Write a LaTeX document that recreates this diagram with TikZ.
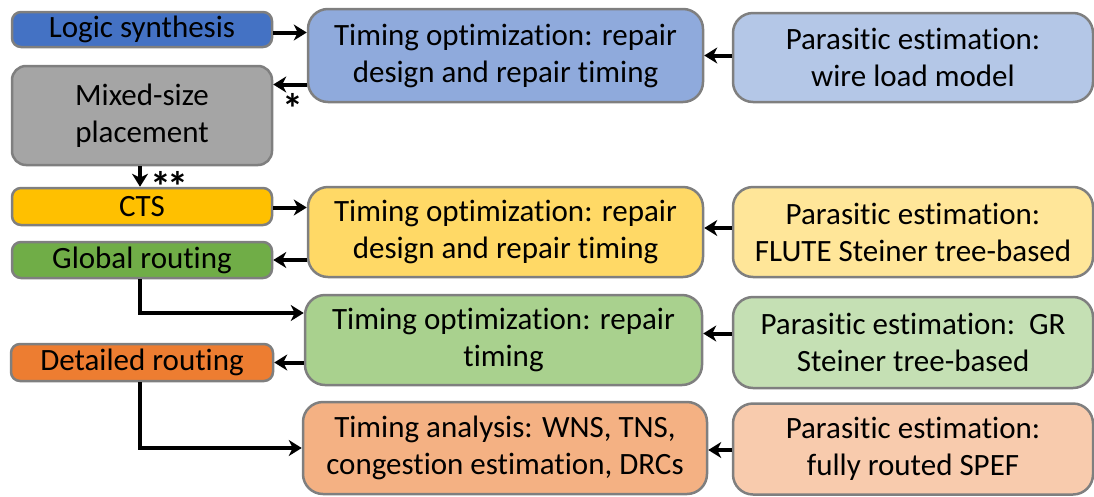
\documentclass[tikz,border=0pt]{standalone}
\usepackage{fontspec}
\setmainfont[RawFeature={-liga;-dlig;-clig}]{Carlito}
\usetikzlibrary{arrows.meta,calc}
\definecolor{cLS}{HTML}{4472C4}
\definecolor{cMP}{HTML}{A5A5A5}
\definecolor{cCTS}{HTML}{FFC000}
\definecolor{cGR}{HTML}{70AD47}
\definecolor{cDR}{HTML}{ED7D31}
\definecolor{cT1}{HTML}{8FAADC}
\definecolor{cP1}{HTML}{B4C7E7}
\definecolor{cT2}{HTML}{FFD966}
\definecolor{cP2}{HTML}{FFE699}
\definecolor{cT3}{HTML}{A9D18E}
\definecolor{cP3}{HTML}{C5E0B4}
\definecolor{cT4}{HTML}{F4B183}
\definecolor{cP4}{HTML}{F8CBAD}
\definecolor{bord}{HTML}{7F7F7F}
\tikzset{
  box/.style={draw=bord, line width=2.5pt, rounded corners=#1, align=center,
    inner sep=0pt, font=\fontsize{31}{37}\selectfont},
  box/.default=20pt,
  arr/.style={line width=4pt, -{Stealth[length=13pt,width=16pt,inset=4pt]}},
  star/.style={font=\fontsize{42}{42}\selectfont\bfseries, inner sep=0pt, anchor=base}
}
\begin{document}
\begin{tikzpicture}[x=1pt,y=-1pt]
\useasboundingbox (0,0) rectangle (1094,496);
% left column
\node[box=9pt, fill=cLS, minimum width=260pt, minimum height=35pt] (ls) at (142,29.5) {Logic synthesis};
\node[box=14pt, fill=cMP, minimum width=260pt, minimum height=99pt] (mp) at (142,115.5) {Mixed-size\\placement};
\node[box=9pt, fill=cCTS, minimum width=260pt, minimum height=37pt] (cts) at (142,206.5) {CTS};
\node[box=9pt, fill=cGR, minimum width=260pt, minimum height=36pt] (gr) at (142,260) {Global routing};
\node[box=9pt, fill=cDR, minimum width=262pt, minimum height=37pt] (dr) at (142,362.5) {Detailed routing};
% middle column
\node[box, fill=cT1, minimum width=395pt, minimum height=93pt] (t1) at (505.5,55.5) {Timing optimization: repair\\design and repair timing};
\node[box, fill=cT2, minimum width=395pt, minimum height=90pt] (t2) at (505.5,232) {Timing optimization: repair\\design and repair timing};
\node[box, fill=cT3, minimum width=397pt, minimum height=90pt] (t3) at (503.5,340) {Timing optimization: repair\\timing};
\node[box, fill=cT4, minimum width=404pt, minimum height=92pt] (t4) at (505,448) {Timing analysis: WNS, TNS,\\congestion estimation, DRCs};
% right column
\node[box, fill=cP1, minimum width=360pt, minimum height=89pt] (p1) at (913,57.5) {Parasitic estimation:\\wire load model};
\node[box, fill=cP2, minimum width=360pt, minimum height=90pt] (p2) at (913,232) {Parasitic estimation:\\FLUTE Steiner tree-based};
\node[box, fill=cP3, minimum width=360pt, minimum height=91pt] (p3) at (913,342.5) {Parasitic estimation:\ \ GR\\Steiner tree-based};
\node[box, fill=cP4, minimum width=360pt, minimum height=91pt] (p4) at (913,449) {Parasitic estimation:\\fully routed SPEF};
% connectors
\draw[arr] ([yshift=-3pt]ls.east) -- ([yshift=-3pt]ls.east -| t1.west);
\draw[arr] ([yshift=-29pt]t1.west) -- ([yshift=-29pt]t1.west -| mp.east);
\draw[arr] ([xshift=-2pt]mp.south) -- ([xshift=-2pt]cts.north);
\draw[arr] ([yshift=-1pt]cts.east) -- ([yshift=-1pt]cts.east -| t2.west);
\draw[arr] (t2.west |- gr.east) -- (gr.east);
\draw[arr] ([xshift=-2pt]gr.south) |- ([yshift=27pt]t3.west);
\draw[arr] (t3.west |- dr.east) -- (dr.east);
\draw[arr] ([xshift=-2pt]dr.south) |- (t4.west);
\draw[arr] ([yshift=2pt]p1.west) -- ([yshift=2pt]p1.west -| t1.east);
\draw[arr] ([yshift=4pt]p2.west) -- ([yshift=4pt]p2.west -| t2.east);
\draw[arr] ([yshift=9pt]p3.west) -- ([yshift=9pt]p3.west -| t3.east);
\draw[arr] ([yshift=-1pt]p4.west) -- ([yshift=-1pt]p4.west -| t4.east);
% labels
\node[star] (s1) at (293,123) {*};
\node[star] (s2) at (169,201) {*\kern-4pt*};
\end{tikzpicture}
\end{document}
